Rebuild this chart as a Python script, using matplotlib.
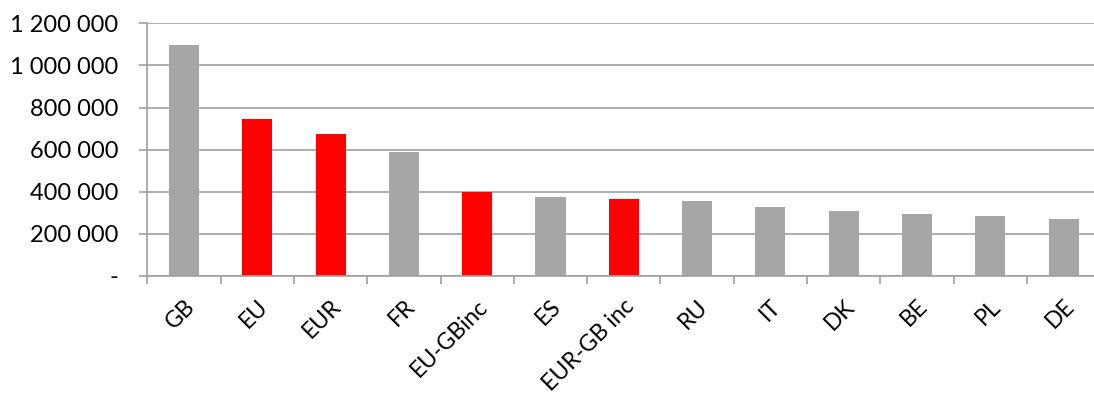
import numpy as np
import matplotlib.pyplot as plt
from matplotlib.ticker import FuncFormatter, FixedLocator

# Values
countries = ["GB", "EU", "EUR", "FR", "EU-GBinc", "ES", "EUR-GB inc",
             "RU", "IT", "DK", "BE", "PL", "DE"]
values = [1097000, 747000, 676000, 591000, 398000, 375000, 366000,
          356000, 328000, 309000, 294000, 285000, 271000]
aggregates = ["EU", "EUR", "EU-GBinc", "EUR-GB inc"]

GREY = "#a6a6a6"
RED = "#ff0000"
AXIS = "#a0a0a0"

plt.rcParams['font.family'] = ['Lato', 'DejaVu Sans']

fig = plt.figure(figsize=(10.94, 3.96), dpi=100)
# plot area runs slightly past the right edge, as in the reference crop
ax = fig.add_axes([147.3 / 1094, 120 / 396, 953 / 1094, 252.7 / 396])

x = np.arange(len(countries))
colors = [RED if c in aggregates else GREY for c in countries]
ax.bar(x, values, width=0.41, color=colors, zorder=2)

ax.set_xlim(-0.5, len(countries) - 0.5)
ax.set_ylim(0, 1200000)
ax.set_yticks(np.arange(0, 1200001, 200000))


def fmt(v, pos):
    if v == 0:
        return "-"
    return f"{int(v):,}".replace(",", " ")


ax.yaxis.set_major_formatter(FuncFormatter(fmt))
ax.yaxis.grid(True, color=AXIS, lw=1.2, zorder=0)
ax.set_axisbelow(True)

ax.set_xticks(x)
ax.set_xticklabels(countries, rotation=45, ha="right", va="top",
                   rotation_mode="anchor")
ax.xaxis.set_minor_locator(FixedLocator(np.arange(-0.5, len(countries), 1.0)))
ax.tick_params(axis="x", which="major", length=0, pad=14, labelsize=16.5)
ax.tick_params(axis="x", which="minor", length=6, width=1.2, color=AXIS)
ax.tick_params(axis="y", length=6, width=1.2, color=AXIS, pad=15, labelsize=17)

for side in ["top", "right"]:
    ax.spines[side].set_visible(False)
for side in ["left", "bottom"]:
    ax.spines[side].set_color(AXIS)
    ax.spines[side].set_linewidth(1.2)

fig.savefig("out.png", dpi=100)
